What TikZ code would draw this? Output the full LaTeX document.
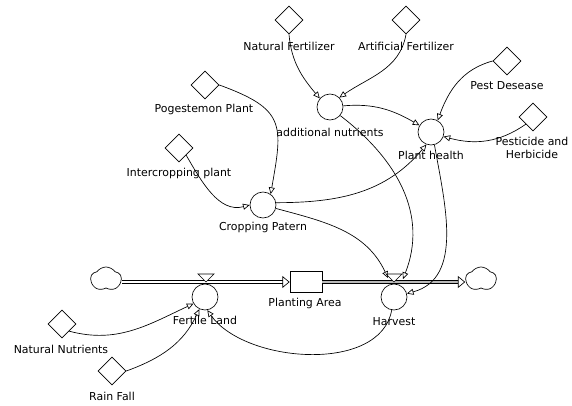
\documentclass[tikz,border=0pt]{standalone}
\usepackage{fontspec}
\setmainfont{DejaVu Sans}
\usetikzlibrary{arrows.meta,shapes.geometric,shapes.symbols,positioning,calc}

\begin{document}
\begin{tikzpicture}[x=0.75pt, y=0.75pt, line width=0.5pt,
    font=\fontsize{8.2}{9.8}\selectfont,
    >={Triangle[open,length=5pt,width=4.5pt]},
    auxvar/.style={draw, diamond, inner sep=0pt, minimum size=21pt},
    flowvar/.style={draw, circle, inner sep=0pt, minimum size=19.5pt},
    stockbox/.style={draw, rectangle, inner sep=0pt, minimum width=24pt, minimum height=16pt},
    cloudnode/.style={draw, cloud, cloud puffs=5, cloud puff arc=110, aspect=1.3, inner sep=0pt,
                      minimum width=23pt, minimum height=18pt},
    link/.style={->},
    pipe/.style={double, double distance=1.5pt},
    widepipe/.style={double=gray!55, double distance=2.2pt},
    pipetip/.style={-{Triangle[open,length=5.5pt,width=9pt]}}]
    \useasboundingbox (0,0) rectangle (572,405);

    % constants
    \node [auxvar] (natfert) at (289,385) {};
    \node [auxvar] (artfert) at (406,385) {};
    \node [auxvar] (pest) at (507,344) {};
    \node [auxvar] (pesticide) at (533,288) {};
    \node [auxvar] (pogest) at (205,320) {};
    \node [auxvar] (intercrop) at (179,257) {};
    \node [auxvar] (natnutr) at (62,81) {};
    \node [auxvar] (rainfall) at (112,34) {};

    % auxiliaries and rates
    \node [flowvar] (addnut) at (330,298) {};
    \node [flowvar] (planthealth) at (431,273) {};
    \node [flowvar] (cropping) at (263,200) {};
    \node [flowvar] (fertile) at (205,108) {};
    \node [flowvar] (harvest) at (394,108) {};

    % stock and clouds
    \node [stockbox] (stock) at (306,123) {};
    \node [cloudnode] (srccloud) at (106,126) {};
    \node [cloudnode] (sinkcloud) at (481,126) {};

    % labels
    \node (natfertlbl) at (289,359) {Natural Fertilizer};
    \node (artfertlbl) at (406,359) {Artificial Fertilizer};
    \node (pestlbl) at (507,319) {Pest Desease};
    \node [align=center, inner sep=0pt] (pesticidelbl) at (532,257) {Pesticide and\\Herbicide};
    \node (pogestlbl) at (204,296) {Pogestemon Plant};
    \node (intercroplbl) at (179,232) {Intercropping plant};
    \node (natnutrlbl) at (61,56) {Natural Nutrients};
    \node (rainfalllbl) at (112,9) {Rain Fall};
    \node (addnutlbl) at (330,273) {additional nutrients};
    \node (planthealthlbl) at (431,250) {Plant health};
    \node (croppinglbl) at (263,178) {Cropping Patern};
    \node (fertilelbl) at (205,85) {Fertile Land};
    \node (harvestlbl) at (394,83) {Harvest};
    \node (stocklbl) at (305,102) {Planting Area};

    % pipes and valves
    \draw [pipe, pipetip] (srccloud.east |- stock.west) -- (stock.west);
    \draw [widepipe, pipetip] (stock.east) -- (sinkcloud.west |- stock.east);
    \draw [fill=white] (198,131) -- (214,131) -- (206,123) -- cycle;
    \draw [fill=white] (386,131) -- (402,131) -- (394,123) -- cycle;
    \coordinate (harvinL) at (388,127);
    \coordinate (harvinR) at (403,126);

    % links
    \draw [link] (natfert.south) to[out=-85, in=130] (addnut.140);
    \draw [link] (artfert.south) to[out=-100, in=35] (addnut.45);
    \draw [link] (addnut.5) to[out=5, in=150] (planthealth.150);
    \draw [link] (addnut.-40) .. controls (398,245) and (428,190) .. (harvinR);
    \draw [link] (pest.west) to[out=195, in=70] (planthealth.60);
    \draw [link] (pesticide.south west) to[out=215, in=-15] (planthealth.-20);
    \draw [link] (planthealth.-75) to[out=-80, in=15] (harvest.15);
    \draw [link] (pogest.east) to[out=-20, in=80, looseness=1.5] (cropping.55);
    \draw [link] (intercrop.south east) to[out=-60, in=195] (cropping.west);
    \draw [link] (cropping.10) to[out=0, in=230] (planthealth.-110);
    \draw [link] (cropping.-15) to[out=-15, in=115] (harvinL);
    \draw [link] (natnutr.south east) to[out=-15, in=205] (fertile.210);
    \draw [link] (rainfall.east) to[out=20, in=245] (fertile.-115);
    \draw [link] (harvest.-100) to[out=-100, in=-55, looseness=0.9] (fertile.-80);
\end{tikzpicture}
\end{document}
